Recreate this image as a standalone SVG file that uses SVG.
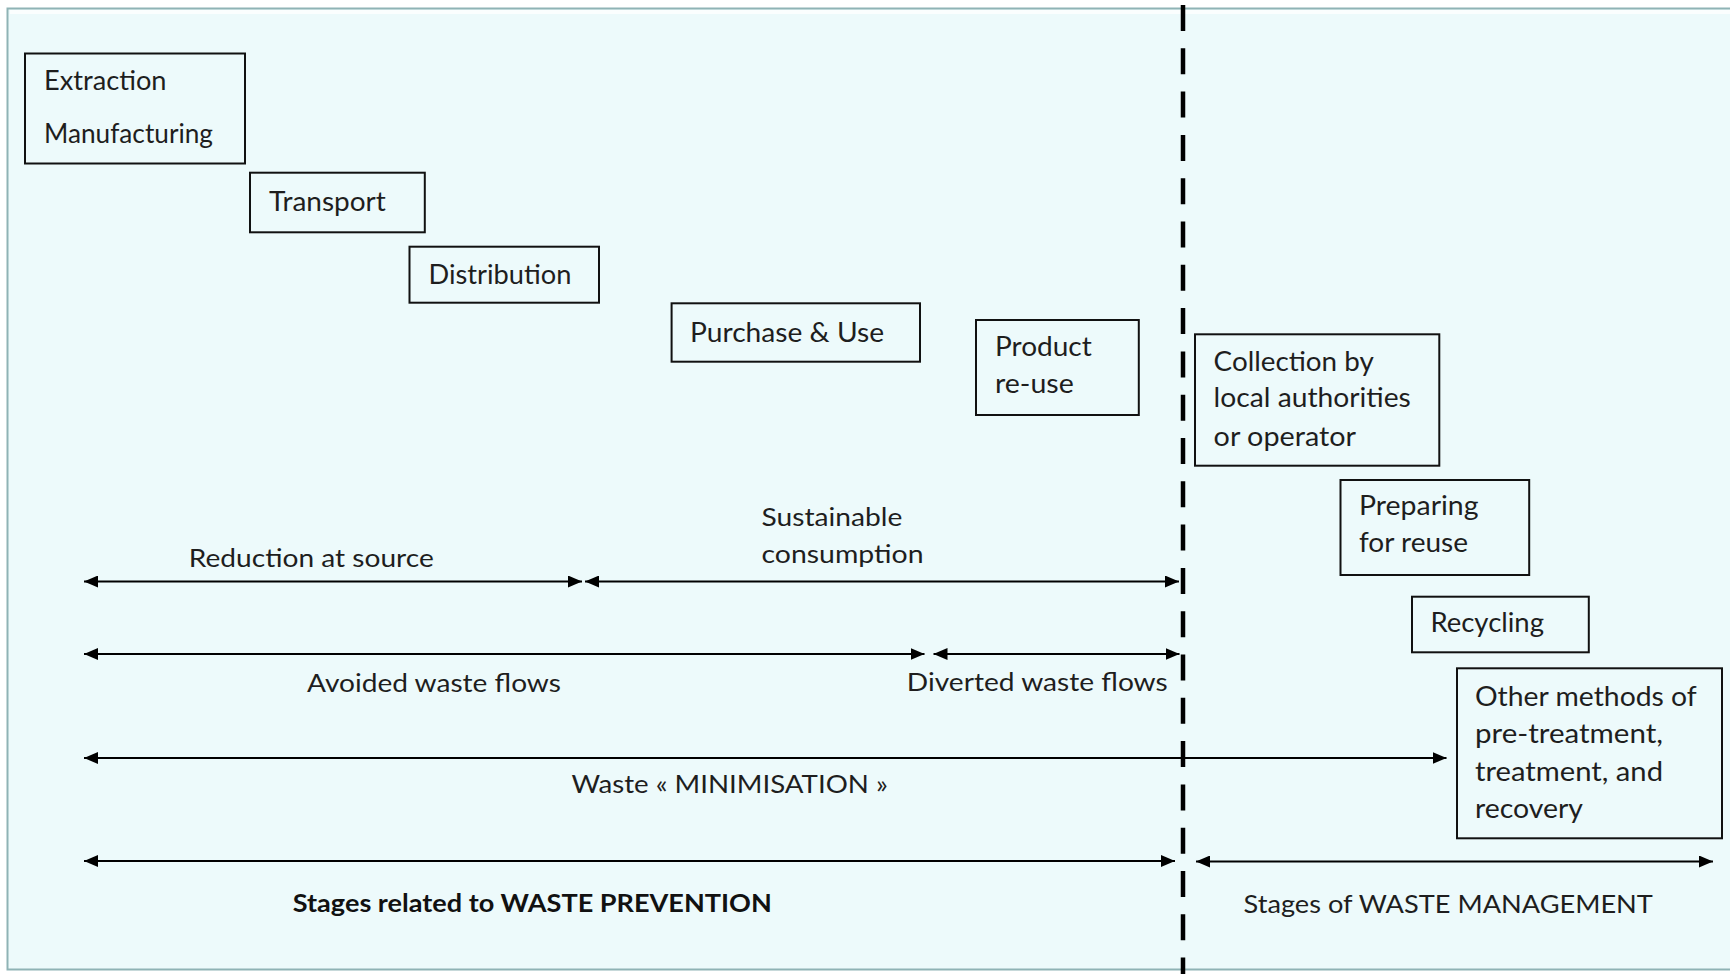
<svg xmlns="http://www.w3.org/2000/svg" width="1730" height="974" viewBox="0 0 1730 974">
<defs>
<style>
.t{font-family:Lato,"Liberation Sans",sans-serif;font-size:26px;fill:#1e1e1e}
.l{font-family:Lato,"Liberation Sans",sans-serif;font-size:25px;fill:#1e1e1e}
.b{font-family:Lato,"Liberation Sans",sans-serif;font-size:25px;font-weight:bold;fill:#111}
.box{fill:none;stroke:#111;stroke-width:2}
.arr{stroke:#000;stroke-width:2.2;fill:none;marker-start:url(#ah);marker-end:url(#ah)}
</style>
<marker id="ah" markerUnits="userSpaceOnUse" markerWidth="14" markerHeight="12" refX="14" refY="6" orient="auto-start-reverse">
<path d="M0,0 L14,6 L0,12 z" fill="#000"/>
</marker>
</defs>
<rect x="0" y="0" width="1730" height="974" fill="#ffffff"/>
<rect x="7.5" y="8.5" width="1730" height="961" fill="#EDFAFB" stroke="#8fb3b5" stroke-width="2"/>
<line x1="10" y1="12" x2="1730" y2="12" stroke="#ffffff" stroke-width="4" opacity="0.8"/>

<g id="divider">
<line x1="1183" y1="5" x2="1183" y2="974" stroke="#000" stroke-width="4.5" stroke-dasharray="26 17.3"/>
</g>

<g id="connectors">
<line class="arr" x1="84" y1="581.5" x2="582" y2="581.5"/>
<line class="arr" x1="585" y1="581.5" x2="1179" y2="581.5"/>
<line class="arr" x1="84" y1="654" x2="924.5" y2="654"/>
<line class="arr" x1="933.5" y1="654" x2="1179.5" y2="654"/>
<line class="arr" x1="84" y1="758" x2="1446.5" y2="758"/>
<line class="arr" x1="84" y1="861" x2="1175" y2="861"/>
<line class="arr" x1="1196" y1="861.5" x2="1713" y2="861.5"/>
</g>

<g id="extraction">
<rect class="box" x="25" y="53.5" width="220" height="110"/>
<text class="t" x="44" y="90" textLength="122.5" lengthAdjust="spacingAndGlyphs">Extraction</text>
<text class="t" x="44" y="143.3" textLength="169" lengthAdjust="spacingAndGlyphs">Manufacturing</text>
</g>
<g id="transport">
<rect class="box" x="250" y="172.7" width="174.8" height="59.6"/>
<text class="t" x="269" y="210.7" textLength="116.8" lengthAdjust="spacingAndGlyphs">Transport</text>
</g>
<g id="distribution">
<rect class="box" x="409.5" y="246.7" width="189.5" height="56"/>
<text class="t" x="428.6" y="284.3" textLength="142.8" lengthAdjust="spacingAndGlyphs">Distribution</text>
</g>
<g id="purchase">
<rect class="box" x="671.6" y="303.3" width="248.4" height="58.4"/>
<text class="t" x="690" y="341.7" textLength="194" lengthAdjust="spacingAndGlyphs">Purchase &amp; Use</text>
</g>
<g id="product">
<rect class="box" x="976" y="320" width="162.8" height="95"/>
<text class="t" x="995" y="356" textLength="96.8" lengthAdjust="spacingAndGlyphs">Product</text>
<text class="t" x="995" y="393.3" textLength="78.8" lengthAdjust="spacingAndGlyphs">re-use</text>
</g>
<g id="collection">
<rect class="box" x="1195" y="334.3" width="244.3" height="131.4"/>
<text class="t" x="1213.6" y="370.7" textLength="160.2" lengthAdjust="spacingAndGlyphs">Collection by</text>
<text class="t" x="1213.6" y="407.3" textLength="197.2" lengthAdjust="spacingAndGlyphs">local authorities</text>
<text class="t" x="1213.6" y="446" textLength="142.4" lengthAdjust="spacingAndGlyphs">or operator</text>
</g>
<g id="preparing">
<rect class="box" x="1340.5" y="480" width="188.7" height="95"/>
<text class="t" x="1359" y="515" textLength="119.5" lengthAdjust="spacingAndGlyphs">Preparing</text>
<text class="t" x="1359" y="551.7" textLength="109" lengthAdjust="spacingAndGlyphs">for reuse</text>
</g>
<g id="recycling">
<rect class="box" x="1412" y="596.7" width="176.8" height="55.6"/>
<text class="t" x="1430.4" y="631.7" textLength="113.6" lengthAdjust="spacingAndGlyphs">Recycling</text>
</g>
<g id="other">
<rect class="box" x="1457" y="668.3" width="265" height="170"/>
<text class="t" x="1475" y="706" textLength="221.8" lengthAdjust="spacingAndGlyphs">Other methods of</text>
<text class="t" x="1475" y="743.3" textLength="188" lengthAdjust="spacingAndGlyphs">pre-treatment,</text>
<text class="t" x="1475" y="781" textLength="188" lengthAdjust="spacingAndGlyphs">treatment, and</text>
<text class="t" x="1475" y="818.3" textLength="108" lengthAdjust="spacingAndGlyphs">recovery</text>
</g>

<g id="labels">
<text class="l" x="761.5" y="526" textLength="140.8" lengthAdjust="spacingAndGlyphs">Sustainable</text>
<text class="l" x="761.5" y="563.3" textLength="162" lengthAdjust="spacingAndGlyphs">consumption</text>
<text class="l" x="188.8" y="567.3" textLength="245" lengthAdjust="spacingAndGlyphs">Reduction at source</text>
<text class="l" x="307" y="691.7" textLength="254" lengthAdjust="spacingAndGlyphs">Avoided waste flows</text>
<text class="l" x="906.8" y="690.7" textLength="261" lengthAdjust="spacingAndGlyphs">Diverted waste flows</text>
<text class="l" x="571.4" y="793.3" textLength="316.4" lengthAdjust="spacingAndGlyphs">Waste « MINIMISATION »</text>
<text class="b" x="292.8" y="911.7" textLength="479" lengthAdjust="spacingAndGlyphs">Stages related to WASTE PREVENTION</text>
<text class="l" x="1243.6" y="912.7" textLength="409.3" lengthAdjust="spacingAndGlyphs">Stages of WASTE MANAGEMENT</text>
</g>
</svg>
